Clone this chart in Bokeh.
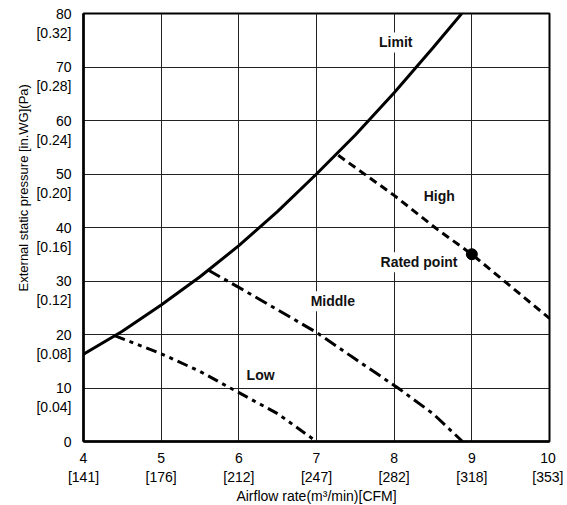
from bokeh.plotting import figure
from bokeh.models import Range1d, Label, Title, FixedTicker
from bokeh.embed import file_html
from bokeh.resources import INLINE

# ---- data ----
limit_x = [4.0, 4.5, 5.0, 5.5, 6.0, 6.5, 7.0, 7.5, 8.0, 8.5, 8.87]
limit_y = [16.3, 20.6, 25.5, 30.8, 36.6, 43.0, 50.0, 57.3, 65.2, 73.6, 80.0]

high_x = [7.28, 8.0, 8.56, 9.0, 10.0]
high_y = [53.5, 46.0, 39.6, 35.0, 23.0]

middle_x = [5.61, 6.0, 7.0, 7.5, 8.05, 8.5, 8.88]
middle_y = [32.0, 28.8, 20.4, 15.4, 10.0, 5.2, 0.0]

low_x = [4.4, 5.0, 5.5, 5.89, 6.5, 7.0]
low_y = [19.8, 16.4, 13.1, 10.0, 5.2, 0.0]

rated_x = [9.0]
rated_y = [35.0]

x_ticks = [4, 5, 6, 7, 8, 9, 10]
x_cfm = ["141", "176", "212", "247", "282", "318", "353"]
y_ticks = [0, 10, 20, 30, 40, 50, 60, 70, 80]
y_inwg = ["", "0.04", "0.08", "0.12", "0.16", "0.20", "0.24", "0.28", "0.32"]

label_texts = ["Limit", "High", "Rated point", "Middle", "Low"]
label_x = [8.02, 8.58, 8.32, 7.21, 6.28]
label_y = [74.6, 45.9, 33.5, 26.2, 12.5]

y_title = "External static pressure  [in.WG](Pa)"
x_title = "Airflow rate(m\u00b3/min)[CFM]"

FONT = "Liberation Sans"
EXTRA_TOP = 16

p = figure(frame_width=466, frame_height=428,
           x_range=Range1d(4, 10), y_range=Range1d(0, 80),
           output_backend="svg", toolbar_location=None,
           min_border_left=83, min_border_top=13 + EXTRA_TOP, min_border_right=14,
           min_border_bottom=56)
p.styles = {"margin-top": f"-{EXTRA_TOP}px"}

p.outline_line_color = "black"
p.outline_line_width = 2
p.background_fill_color = "white"
p.border_fill_color = "white"

for g in (p.xgrid, p.ygrid):
    g.grid_line_color = "#222222"
    g.grid_line_width = 1

p.xaxis.ticker = FixedTicker(ticks=x_ticks)
p.yaxis.ticker = FixedTicker(ticks=y_ticks)
p.xgrid.ticker = FixedTicker(ticks=x_ticks)
p.ygrid.ticker = FixedTicker(ticks=y_ticks)

p.xaxis.major_label_overrides = {t: f"{t}\n[{c}]" for t, c in zip(x_ticks, x_cfm)}
# leading empty line keeps the value line centred on its tick
p.yaxis.major_label_overrides = {t: (f"\n{t}\n[{w}]" if w else f"{t}") for t, w in zip(y_ticks, y_inwg)}

for ax in (p.xaxis, p.yaxis):
    ax.axis_line_color = "black"
    ax.axis_line_width = 2.5
    ax.major_tick_line_color = None
    ax.minor_tick_line_color = None
    ax.major_label_text_font = FONT
    ax.major_label_text_font_size = "14px"
    ax.major_label_text_color = "black"
    ax.axis_label_text_font = FONT
    ax.axis_label_text_font_size = "14px"
    ax.axis_label_text_font_style = "normal"
    ax.axis_label_text_color = "black"

p.yaxis.major_label_standoff = 6
p.xaxis.major_label_standoff = 2
p.xaxis.axis_label = x_title
p.xaxis.axis_label_standoff = 0

ytitle = Title(text=y_title, align="right", offset=67,
               text_font=FONT, text_font_size="13px", text_font_style="normal",
               text_color="black", standoff=6)
p.add_layout(ytitle, "left")

p.line(limit_x, limit_y, line_color="black", line_width=3)
p.line(high_x, high_y, line_color="black", line_width=3, line_dash="8 5")
p.line(middle_x, middle_y, line_color="black", line_width=3, line_dash="13 5 4 5")
p.line(low_x, low_y, line_color="black", line_width=3, line_dash="11 5 4 5 4 5")
p.scatter(rated_x, rated_y, size=11, color="black")

for t, lx, ly in zip(label_texts, label_x, label_y):
    p.add_layout(Label(x=lx, y=ly, text=t, text_align="center", text_baseline="middle",
                       text_font=FONT, text_font_size="14px", text_font_style="bold",
                       text_color="#111111", background_fill_color="white",
                       padding=2))

open("out.html", "w").write(file_html(p, INLINE))
